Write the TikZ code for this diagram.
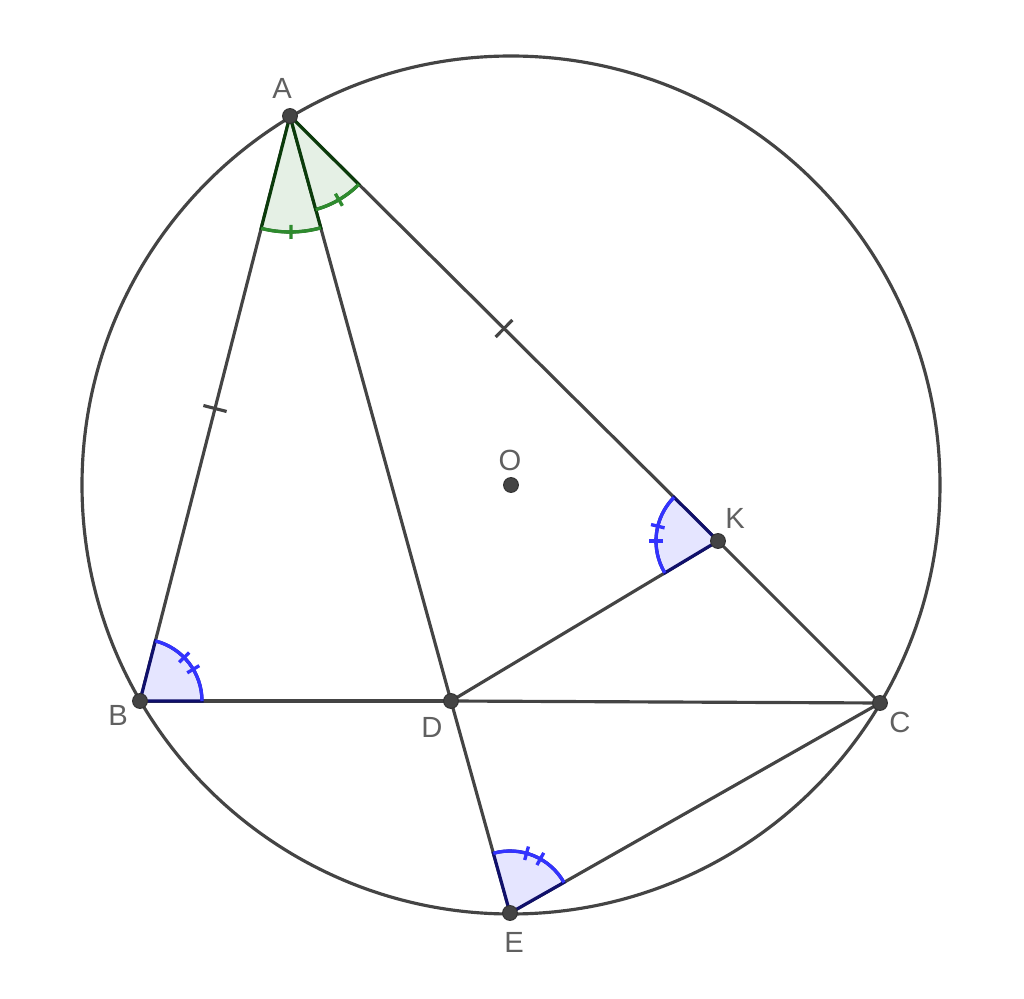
\documentclass[tikz,border=0pt]{standalone}
\usepackage{fontspec}
\setmainfont{Liberation Sans}
\usetikzlibrary{calc}

\definecolor{ggline}{HTML}{444444}
\definecolor{gglabel}{HTML}{606060}
\definecolor{angfillG}{HTML}{E5F0E5}
\definecolor{angedgeG}{HTML}{0B3B0B}
\definecolor{angarcG}{HTML}{2E8B2E}
\definecolor{angfillB}{HTML}{E5E5FF}
\definecolor{angedgeB}{HTML}{10106B}
\definecolor{angarcB}{HTML}{3333FF}

\begin{document}
\begin{tikzpicture}[
  seg/.style={ggline, line width=0.9pt},
  dot/.style={fill=ggline, draw=black!80, line width=0.3pt},
  lbl/.style={text=gglabel, font=\fontsize{8.3}{9}\selectfont, inner sep=0pt},
  greensec/.style={fill=angfillG, draw=angedgeG, line width=0.9pt},
  greenarc/.style={angarcG, line width=0.95pt},
  bluesec/.style={fill=angfillB, draw=angedgeB, line width=0.9pt},
  bluearc/.style={angarcB, line width=0.95pt}
]
            \useasboundingbox (0,0) rectangle (10.24,-9.99);

            % Points
            \coordinate (O) at (5.11,-4.85);
            \coordinate (A) at (2.90,-1.16);
            \coordinate (B) at (1.40,-7.01);
            \coordinate (C) at (8.80,-7.03);
            \coordinate (D) at (4.51,-7.01);
            \coordinate (E) at (5.10,-9.13);
            \coordinate (K) at (7.18,-5.41);

            % Circle
            \draw[seg] (O) circle (4.29);

            % Segments
            \draw[seg] (A) -- (B);
            \draw[seg] (A) -- (D);
            \draw[seg] (D) -- (E);
            \draw[seg] (A) -- (K);
            \draw[seg] (K) -- (C);
            \draw[seg] (B) -- (D);
            \draw[seg] (D) -- (C);
            \draw[seg] (D) -- (K);
            \draw[seg] (E) -- (C);

            % Equal sides AB = AK
            \draw[seg] ($(A)!0.5!(B)$) ++(165.6:0.12) -- ++(-14.4:0.24);
            \draw[seg] ($(A)!0.5!(K)$) ++(45.1:0.12) -- ++(225.1:0.24);

            % Angle BAD
            \draw[greensec] (A) -- ++(255.62:1.16) arc[start angle=255.62, end angle=285.39, radius=1.16] -- cycle;
            \draw[greenarc] (A) ++(255.62:1.16) arc[start angle=255.62, end angle=285.39, radius=1.16];
            \draw[greenarc] (A) ++(270.5:1.09) -- ++(270.5:0.14);

            % Angle DAK
            \draw[greensec] (A) -- ++(285.39:0.97) arc[start angle=285.39, end angle=315.15, radius=0.97] -- cycle;
            \draw[greenarc] (A) ++(285.39:0.97) arc[start angle=285.39, end angle=315.15, radius=0.97];
            \draw[greenarc] (A) ++(300.27:0.90) -- ++(300.27:0.14);

            % Angle ABD
            \draw[bluesec] (B) -- ++(0:0.62) arc[start angle=0, end angle=75.62, radius=0.62] -- cycle;
            \draw[bluearc] (B) ++(0:0.62) arc[start angle=0, end angle=75.62, radius=0.62];
            \draw[bluearc] (B) ++(30.8:0.55) -- ++(30.8:0.14);
            \draw[bluearc] (B) ++(44.6:0.55) -- ++(44.6:0.14);

            % Angle AKD
            \draw[bluesec] (K) -- ++(135.21:0.62) arc[start angle=135.21, end angle=210.93, radius=0.62] -- cycle;
            \draw[bluearc] (K) ++(135.21:0.62) arc[start angle=135.21, end angle=210.93, radius=0.62];
            \draw[bluearc] (K) ++(166.2:0.55) -- ++(166.2:0.14);
            \draw[bluearc] (K) ++(180.0:0.55) -- ++(180.0:0.14);

            % Angle DEC
            \draw[bluesec] (E) -- ++(29.58:0.62) arc[start angle=29.58, end angle=105.55, radius=0.62] -- cycle;
            \draw[bluearc] (E) ++(29.58:0.62) arc[start angle=29.58, end angle=105.55, radius=0.62];
            \draw[bluearc] (E) ++(60.7:0.55) -- ++(60.7:0.14);
            \draw[bluearc] (E) ++(74.5:0.55) -- ++(74.5:0.14);

            % Dots
            \foreach \p in {A,B,C,D,E,K,O}
              \filldraw[dot] (\p) circle (0.074);

            % Labels
            \node[lbl] (lA) at (2.82,-0.88) {A};
            \node[lbl] (lB) at (1.18,-7.15) {B};
            \node[lbl] (lC) at (9.00,-7.22) {C};
            \node[lbl] (lD) at (4.32,-7.27) {D};
            \node[lbl] (lE) at (5.14,-9.42) {E};
            \node[lbl] (lK) at (7.35,-5.18) {K};
            \node[lbl] (lO) at (5.10,-4.60) {O};

        \end{tikzpicture}
\end{document}
